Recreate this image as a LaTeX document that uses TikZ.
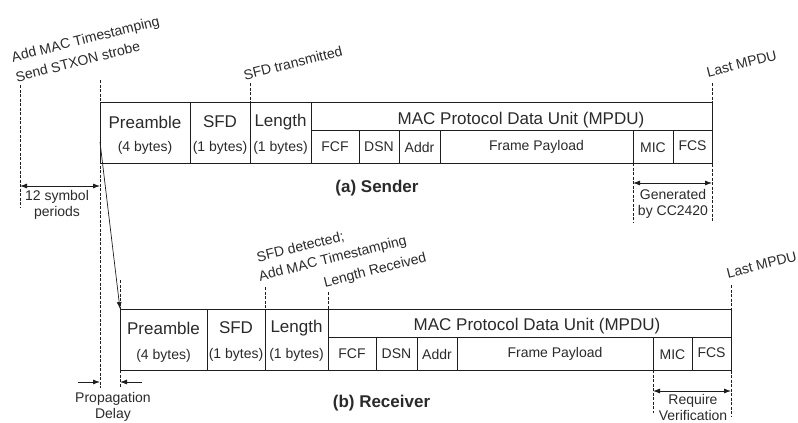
\documentclass[tikz,border=0pt]{standalone}
\usepackage{fontspec}
\setmainfont{Liberation Sans}
\usetikzlibrary{arrows.meta,decorations.text}
\definecolor{txt}{HTML}{2A2A2A}
\definecolor{ln}{HTML}{1E1E1E}
\newcommand{\tiltfont}{\fontsize{14}{16}\selectfont}
\tikzset{
  fbox/.style={draw=ln, line width=0.9pt, inner sep=0, outer sep=0, anchor=north west},
  big/.style={font=\fontsize{17}{20}\selectfont, text=txt, inner sep=0},
  sml/.style={font=\fontsize{14}{16}\selectfont, text=txt, inner sep=0},
  two/.style={sml, align=center},
  ttl/.style={font=\fontsize{17}{20}\selectfont\bfseries, text=txt, inner sep=0},
  tilted/.style={decorate, decoration={text along path, text align=left, text color=txt, text={|\tiltfont|#1}}},
  guide/.style={draw=ln, line width=0.7pt, dash pattern=on 3pt off 1.5pt},
  dimarrow/.style={draw=ln, line width=0.8pt, {Latex[length=7pt,width=5pt]}-{Latex[length=7pt,width=5pt]}},
  onearrow/.style={draw=ln, line width=0.8pt, -{Latex[length=7pt,width=5pt]}}
}
\begin{document}
\begin{tikzpicture}[x=1pt,y=-1pt]
\useasboundingbox (0,0) rectangle (798,423);
% ---------------- Sender frame ----------------
\node[fbox, minimum width=90,  minimum height=61] (sPre)  at (100,102) {};
\node[fbox, minimum width=60,  minimum height=61] (sSFD)  at (190,102) {};
\node[fbox, minimum width=61,  minimum height=61] (sLen)  at (250,102) {};
\node[fbox, minimum width=401, minimum height=28] (sMPDU) at (311,102) {};
\node[fbox, minimum width=48,  minimum height=33] (sFCF)  at (311,130) {};
\node[fbox, minimum width=40,  minimum height=33] (sDSN)  at (359,130) {};
\node[fbox, minimum width=41,  minimum height=33] (sAddr) at (399,130) {};
\node[fbox, minimum width=193, minimum height=33] (sPay)  at (440,130) {};
\node[fbox, minimum width=40,  minimum height=33] (sMIC)  at (633,130) {};
\node[fbox, minimum width=39,  minimum height=33] (sFCS)  at (673,130) {};
\node[big] (sPreT) at (145,122) {Preamble};
\node[big] (sSFDT) at (220,122) {SFD};
\node[big] (sLenT) at (280.5,122) {Length};
\node[big] (sMPDUT) at (521,120) {MAC Protocol Data Unit (MPDU)};
\node[sml] (sPreB) at (145,148) {(4 bytes)};
\node[sml] (sSFDB) at (220,148) {(1 bytes)};
\node[sml] (sLenB) at (280.5,148) {(1 bytes)};
\node[sml] (sFCFT) at (335,147) {FCF};
\node[sml] (sDSNT) at (379,147) {DSN};
\node[sml] (sAddrT) at (419.5,147) {Addr};
\node[sml] (sPayT) at (536.5,147) {Frame Payload};
\node[sml] (sMICT) at (653,148) {MIC};
\node[sml] (sFCST) at (692.5,146) {FCS};
% ---------------- Receiver frame ----------------
\node[fbox, minimum width=87,  minimum height=61] (rPre)  at (120,309) {};
\node[fbox, minimum width=58,  minimum height=61] (rSFD)  at (207,309) {};
\node[fbox, minimum width=63,  minimum height=61] (rLen)  at (265,309) {};
\node[fbox, minimum width=403, minimum height=28] (rMPDU) at (328,309) {};
\node[fbox, minimum width=48,  minimum height=33] (rFCF)  at (328,337) {};
\node[fbox, minimum width=41,  minimum height=33] (rDSN)  at (376,337) {};
\node[fbox, minimum width=40,  minimum height=33] (rAddr) at (417,337) {};
\node[fbox, minimum width=196, minimum height=33] (rPay)  at (457,337) {};
\node[fbox, minimum width=39,  minimum height=33] (rMIC)  at (653,337) {};
\node[fbox, minimum width=39,  minimum height=33] (rFCS)  at (692,337) {};
\node[big] (rPreT) at (163.5,328) {Preamble};
\node[big] (rSFDT) at (236,328) {SFD};
\node[big] (rLenT) at (296.5,328) {Length};
\node[big] (rMPDUT) at (537,326) {MAC Protocol Data Unit (MPDU)};
\node[sml] (rPreB) at (163.5,356) {(4 bytes)};
\node[sml] (rSFDB) at (236,355) {(1 bytes)};
\node[sml] (rLenB) at (296.5,355) {(1 bytes)};
\node[sml] (rFCFT) at (352,354) {FCF};
\node[sml] (rDSNT) at (396.5,354) {DSN};
\node[sml] (rAddrT) at (437,354) {Addr};
\node[sml] (rPayT) at (555,354) {Frame Payload};
\node[sml] (rMICT) at (672.5,355) {MIC};
\node[sml] (rFCST) at (711.5,353) {FCS};
% ---------------- guide coordinates ----------------
\coordinate (g1a) at (20,85);   \coordinate (g1b) at (20,207);
\coordinate (g2a) at (100,80);  \coordinate (g2b) at (100,388);
\coordinate (g3a) at (250,83);  \coordinate (g3b) at (250,163);
\coordinate (g4a) at (712,83);  \coordinate (g4b) at (712,222);
\coordinate (g5a) at (633,163); \coordinate (g5b) at (633,222);
\coordinate (h1a) at (120,280); \coordinate (h1b) at (120,388);
\coordinate (h2a) at (265,287); \coordinate (h2b) at (265,309);
\coordinate (h3a) at (328,292); \coordinate (h3b) at (328,309);
\coordinate (h4a) at (731,285); \coordinate (h4b) at (731,416);
\coordinate (h5a) at (653,370); \coordinate (h5b) at (653,413);
\draw[guide] (g1a) -- (g1b);
\draw[guide] (g2a) -- (g2b);
\draw[guide] (g3a) -- (g3b);
\draw[guide] (g4a) -- (g4b);
\draw[guide] (g5a) -- (g5b);
\draw[guide] (h1a) -- (h1b);
\draw[guide] (h2a) -- (h2b);
\draw[guide] (h3a) -- (h3b);
\draw[guide] (h4a) -- (h4b);
\draw[guide] (h5a) -- (h5b);
% ---------------- dimension arrows ----------------
\coordinate (a1a) at (20,186);  \coordinate (a1b) at (100,186);
\coordinate (a2a) at (633,183); \coordinate (a2b) at (712,183);
\coordinate (a3a) at (653,391); \coordinate (a3b) at (731,391);
\coordinate (p1a) at (78,382);  \coordinate (p1b) at (100,382);
\coordinate (p2a) at (142,382); \coordinate (p2b) at (120,382);
\coordinate (dA) at (100,142);  \coordinate (dB) at (120,309);
\draw[dimarrow] (a1a) -- (a1b);
\draw[dimarrow] (a2a) -- (a2b);
\draw[dimarrow] (a3a) -- (a3b);
\draw[onearrow] (p1a) -- (p1b);
\draw[onearrow] (p2a) -- (p2b);
\draw[onearrow, line width=0.7pt] (dA) -- (dB);
% ---------------- labels ----------------
\node[two] (symT) at (57,205) {12 symbol\\periods};
\node[two] (genT) at (673,203.5) {Generated\\by CC2420};
\node[two] (reqT) at (693,407) {Require\\Verification};
\node[two] (propT) at (113,407) {Propagation\\Delay};
\node[ttl] (sendT) at (377,188) {(a) Sender};
\node[ttl] (recvT) at (381.5,403) {(b) Receiver};
% tilted labels (14 degrees), baselines along these lines
\coordinate (t1s) at (13,62);   \coordinate (t1e) at (187.6,18.5);
\coordinate (t2s) at (17,82);   \coordinate (t2e) at (162.5,45.7);
\coordinate (t3s) at (245,80);  \coordinate (t3e) at (361.4,51);
\coordinate (t4s) at (708,77);  \coordinate (t4e) at (795.3,55.2);
\coordinate (t5s) at (258,262); \coordinate (t5e) at (364.7,235.4);
\coordinate (t6s) at (260,281); \coordinate (t6e) at (434.6,237.5);
\coordinate (t7s) at (325,287); \coordinate (t7e) at (470.5,250.7);
\coordinate (t8s) at (728,278); \coordinate (t8e) at (815.3,256.2);
\path[tilted={Add MAC Timestamping}] (t1s) -- (t1e);
\path[tilted={Send STXON strobe}] (t2s) -- (t2e);
\path[tilted={SFD transmitted}] (t3s) -- (t3e);
\path[tilted={Last MPDU}] (t4s) -- (t4e);
\path[tilted={SFD detected;}] (t5s) -- (t5e);
\path[tilted={Add MAC Timestamping}] (t6s) -- (t6e);
\path[tilted={Length Received}] (t7s) -- (t7e);
\path[tilted={Last MPDU}] (t8s) -- (t8e);
\end{tikzpicture}
\end{document}
